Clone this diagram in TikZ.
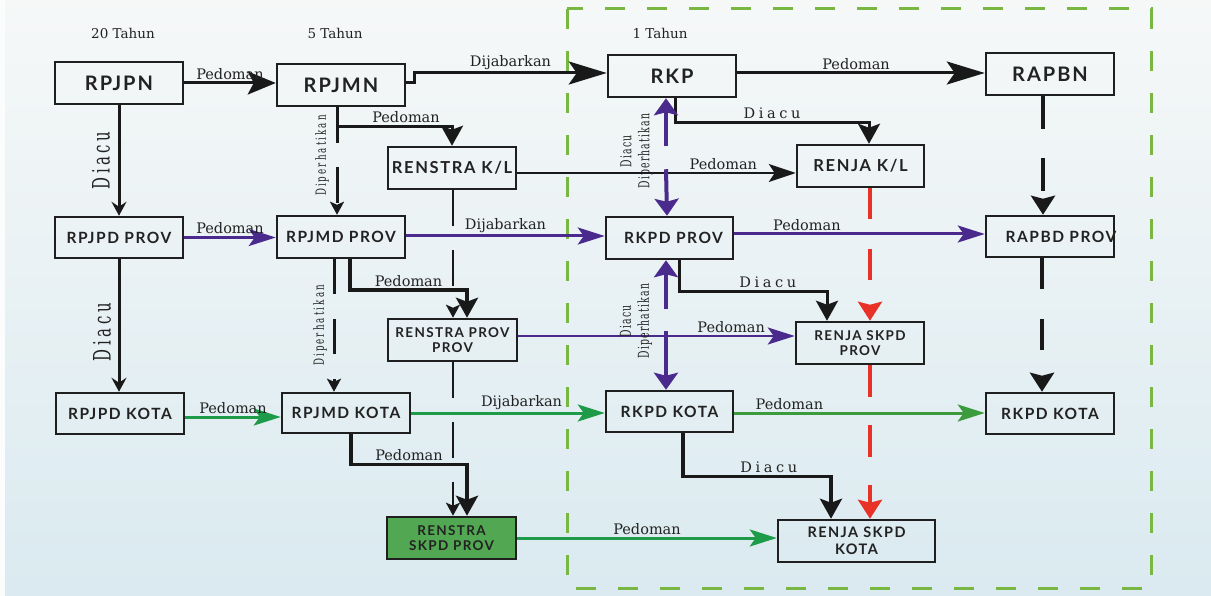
\documentclass[tikz,border=0pt]{standalone}
\usepackage{fontspec}
\setmainfont{DejaVu Serif}
\newfontfamily\bxf[LetterSpace=10]{Lato}
\newfontfamily\cndsp[FakeStretch=0.62,LetterSpace=15]{DejaVu Serif}
\newfontfamily\cndn[FakeStretch=0.62,LetterSpace=8]{DejaVu Serif}
\newfontfamily\spcf[LetterSpace=25]{DejaVu Serif}
\usetikzlibrary{arrows.meta}
\definecolor{pur}{RGB}{74,42,140}
\definecolor{grn}{RGB}{30,155,72}
\definecolor{grnb}{RGB}{60,155,60}
\definecolor{fgrn}{RGB}{82,168,82}
\definecolor{framec}{RGB}{120,184,66}
\definecolor{rd}{RGB}{232,50,40}
\definecolor{bgtop}{RGB}{246,248,248}
\definecolor{bgbot}{RGB}{218,234,240}
\definecolor{txt}{RGB}{34,34,34}
\begin{document}
\begin{tikzpicture}[x=1pt,y=-1pt,
  box/.style={draw=black!88, line width=2.5pt, inner sep=0pt, align=center, text=txt, minimum width=128pt, minimum height=42pt},
  bA/.style={font=\bxf\bfseries\fontsize{20}{22}\selectfont},
  bB/.style={font=\bxf\bfseries\fontsize{16.5}{18}\selectfont},
  bC/.style={font=\bxf\bfseries\fontsize{15.5}{17}\selectfont},
  bD/.style={font=\bxf\bfseries\fontsize{13.5}{15.5}\selectfont},
  bE/.style={font=\bxf\bfseries\fontsize{14.5}{16.5}\selectfont},
  lbl/.style={font=\fontsize{14.5}{16}\selectfont, text=txt, inner sep=2pt},
  spc/.style={font=\spcf\fontsize{14.5}{16}\selectfont, text=txt, inner sep=2pt},
  ttl/.style={font=\fontsize{13.5}{16}\selectfont, text=txt},
  vlA/.style={font=\cndsp\fontsize{24}{24}\selectfont, text=txt},
  vlB/.style={font=\cndsp\fontsize{14}{14}\selectfont, text=txt},
  vlC/.style={font=\cndn\fontsize{15}{18}\selectfont, text=txt, align=center},
  blk/.style={draw=black!90, line width=3pt},
  dsh/.style={draw=black!90, line width=3pt, dash pattern=on 36pt off 24pt},
  pu/.style={draw=pur, line width=3pt},
  gr/.style={draw=grn, line width=3pt},
  rdd/.style={draw=rd, line width=3.5pt},
  tipA/.style={-{Stealth[length=28pt,width=23pt,inset=6pt]}},
  tipL/.style={-{Stealth[length=38pt,width=23pt,inset=8pt]}},
  tipM/.style={-{Stealth[length=20pt,width=22pt,inset=4pt]}},
  tipN/.style={-{Stealth[length=27pt,width=18pt,inset=6pt]}},
  tipS/.style={-{Stealth[length=14pt,width=15pt,inset=5pt]}},
  tipD/.style={-{Stealth[length=13pt,width=14pt,inset=3pt]}},
  tipP/.style={-{Stealth[length=27pt,width=17pt,inset=6pt]}},
  tipT/.style={-{Stealth[length=19pt,width=24pt,inset=3pt]}},
  tipU/.style={-{Stealth[length=17pt,width=24pt,inset=3pt]}},
]
\useasboundingbox (0,0) rectangle (1211,596);
\shade[top color=bgtop, bottom color=bgbot] (0,0) rectangle (1211,596);
\fill[white!60!bgtop] (0,0) rectangle (5,596);
% frame of the 1-year block
\draw[framec, line width=3pt, dash pattern=on 20pt off 22pt] (567,9) rectangle (1151,588);

% titles
\node[ttl] (t20) at (123,33) {20 Tahun};
\node[ttl] (t5) at (335,33) {5 Tahun};
\node[ttl] (t1) at (660,33) {1 Tahun};

% boxes
\node[box,bA] (rpjpn) at (119,83) {RPJPN};
\node[box,bA] (rpjmn) at (341,85) {RPJMN};
\node[box,bA] (rkp) at (672,76) {RKP};
\node[box,bA] (rapbn) at (1050,74) {RAPBN};
\node[box,bB] (renkl) at (452,168) {RENSTRA K/L};
\node[box,bB,minimum width=127pt] (renjakl) at (860.5,166) {RENJA K/L};
\node[box,bC,minimum height=41pt] (rpjpdprov) at (119,237.5) {RPJPD PROV};
\node[box,bC] (rpjmdprov) at (341,237) {RPJMD PROV};
\node[box,bC,minimum width=127pt] (rkpdprov) at (669.5,238) {\makebox[0pt]{\hspace*{8pt}RKPD PROV}};
\node[box,bC,minimum height=41pt] (rapbdprov) at (1050,236.5) {\makebox[0pt]{\hspace*{22pt}RAPBD PROV}};
\node[box,bD,minimum width=129pt] (renprov) at (452.5,340) {RENSTRA PROV\\PROV};
\node[box,bD] (renjaprov) at (860,343) {RENJA SKPD\\PROV};
\node[box,bC,minimum height=41pt] (rpjpdkota) at (120,413.5) {RPJPD KOTA};
\node[box,bC,minimum height=40pt] (rpjmdkota) at (346,413) {RPJMD KOTA};
\node[box,bC,minimum width=127pt,minimum height=41pt] (rkpdkota) at (669.5,411.5) {RKPD KOTA};
\node[box,bC,minimum height=41pt] (rkpdkota2) at (1050,413.5) {RKPD KOTA};
\node[box,bD,fill=fgrn,minimum width=129pt] (renskpd) at (451.5,538) {RENSTRA\\SKPD PROV};
\node[box,bE,minimum width=157pt] (renjakota) at (856.5,541) {RENJA SKPD\\KOTA};

% row 1
\draw[blk,tipA] (rpjpn.east) -- (rpjpn.east -| rpjmn.west) node[lbl,midway,above] {Pedoman};
\draw[blk,tipL] ([yshift=2pt]rpjmn.east) -- ++(8,0) -- ++(0,-10) coordinate (dj) -- (dj -| rkp.west) node[lbl,midway,above] {Dijabarkan};
\draw[blk,tipL] ([yshift=3pt]rkp.east) -- ([yshift=3pt]rkp.east -| rapbn.west) node[lbl,pos=.48,above] {Pedoman};

% left column Diacu
\draw[blk,tipS] (rpjpn.south) -- (rpjpn.south |- rpjpdprov.north) node[vlA,midway,xshift=-18pt,rotate=90] {Diacu};
\draw[blk,tipS] (rpjpdprov.south) -- (rpjpdprov.south |- rpjpdkota.north) node[vlA,pos=.55,xshift=-17pt,rotate=90] {Diacu};

% 5-year column
\draw[dsh,tipD] ([xshift=-4pt]rpjmn.south) -- ([xshift=-4pt]rpjmn.south |- rpjmdprov.north) node[vlB,pos=.45,xshift=-15pt,rotate=90] {Diperhatikan};
\draw[blk,tipM] ([xshift=-4pt]rpjmn.south) -- ++(0,19) -| (renkl.north) node[lbl,pos=.3,above] {Pedoman};
\draw[blk,line width=2pt,tipN] ([yshift=-5pt]renkl.east) -- ([yshift=-5pt]renkl.east -| renjakl.west) node[lbl,pos=.74,above] {Pedoman};
\draw[dsh,line width=2.5pt,tipD] ([xshift=1pt]renkl.south) -- ([xshift=1pt]renkl.south |- renprov.north);
\draw[blk,line width=3.5pt,tipM] ([xshift=9pt]rpjmdprov.south) -- ++(0,31) -| ([xshift=14.5pt]renprov.north) node[lbl,pos=.25,above] {Pedoman};
\draw[dsh,dash pattern=on 35pt off 25pt,tipD] ([xshift=-7pt]rpjmdprov.south) -- ([xshift=-7pt]rpjmdprov.south |- rpjmdkota.north) node[vlB,midway,xshift=-14pt,rotate=90] {Diperhatikan};
\draw[dsh,line width=2.5pt,tipD] ([xshift=0.5pt]renprov.south) -- ([xshift=0.5pt]renprov.south |- renskpd.north);
\draw[blk,line width=3.5pt,tipM] ([xshift=5pt]rpjmdkota.south) -- ++(0,30) -| ([xshift=15.5pt]renskpd.north) node[lbl,pos=.25,above] {Pedoman};

% purple (province)
\draw[pu,tipP] (rpjpdprov.east) -- (rpjpdprov.east -| rpjmdprov.west) node[lbl,midway,above] {Pedoman};
\draw[pu,tipP] ([yshift=1pt]rpjmdprov.east) -- ([yshift=1pt]rpjmdprov.east -| rkpdprov.west) node[lbl,midway,above] {Dijabarkan};
\draw[pu,tipP] ([yshift=4pt]rkpdprov.east) -- ([yshift=4pt]rkpdprov.east -| rapbdprov.west) node[lbl,pos=.29,above] {Pedoman};
\draw[pu,line width=2.5pt,tipP] ([yshift=4pt]renprov.east) -- ([yshift=4pt]renprov.east -| renjaprov.west) node[lbl,pos=.77,above] {Pedoman};

% green (city)
\draw[gr,tipP] ([yshift=-3.5pt]rpjpdkota.east) -- ([yshift=-3.5pt]rpjpdkota.east -| rpjmdkota.west) node[lbl,midway,above] {Pedoman};
\draw[gr,tipP] (rpjmdkota.east) -- (rpjmdkota.east -| rkpdkota.west) node[lbl,pos=.57,above] {Dijabarkan};
\draw[draw=grnb,line width=3pt,tipP] ([yshift=-1.5pt]rkpdkota.east) -- ([yshift=-1.5pt]rkpdkota.east -| rkpdkota2.west) node[lbl,pos=.22,above] {Pedoman};
\draw[gr,tipP] (renskpd.east) -- (renskpd.east -| renjakota.west) node[lbl,midway,above] {Pedoman};

% Diacu to RENJA
\draw[blk,tipM] ([xshift=3pt]rkp.south) -- ++(0,24) -| ([xshift=8.5pt]renjakl.north) node[spc,pos=.25,above] {Diacu};
\draw[blk,tipM] ([xshift=9.5pt]rkpdprov.south) -- ++(0,31) -| ([xshift=-33pt]renjaprov.north) node[spc,pos=.3,above] {Diacu};
\draw[blk,line width=3.5pt,tipM] ([xshift=13.5pt]rkpdkota.south) -- ++(0,43) -| ([xshift=-25.5pt]renjakota.north) node[spc,pos=.29,above] {Diacu};

% right column dashed black
\draw[blk,line width=4pt,dash pattern=on 33pt off 29pt,tipT] ([xshift=-7pt]rapbn.south) -- ([xshift=-7pt]rapbn.south |- rapbdprov.north);
\draw[blk,line width=4pt,dash pattern=on 31pt off 30pt,tipT] ([xshift=-8pt]rapbdprov.south) -- ([xshift=-8pt]rapbdprov.south |- rkpdkota2.north);

% red dashed
\draw[rdd,dash pattern=on 31pt off 30pt,tipT] ([xshift=9.5pt]renjakl.south) -- ([xshift=9.5pt]renjakl.south |- renjaprov.north);
\draw[rdd,dash pattern=on 32pt off 28pt,tipT] ([xshift=10pt]renjaprov.south) -- ([xshift=10pt]renjaprov.south |- renjakota.north);

% purple two-way links
\draw[pu,line width=4pt,tipU] ([xshift=-6pt]rkp.south) ++(0,48) -- ([xshift=-6pt]rkp.south);
\draw[pu,line width=4pt,tipU] ([xshift=-6pt]rkp.south) ++(0,71) -- ([xshift=-2.5pt]rkpdprov.north);
\path ([xshift=-6pt]rkp.south) -- ([xshift=-2.5pt]rkpdprov.north) node[vlC,pos=.45,xshift=-30pt,rotate=90] {Diacu\\Diperhatikan};
\draw[pu,line width=4pt,tipU] ([xshift=-3.5pt]rkpdprov.south) ++(0,49) -- ([xshift=-3.5pt]rkpdprov.south);
\draw[pu,line width=4pt,tipU] ([xshift=-3.5pt]rkpdprov.south) ++(0,71) -- ([xshift=-3.5pt]rkpdprov.south |- rkpdkota.north);
\path ([xshift=-3.5pt]rkpdprov.south) -- ([xshift=-3.5pt]rkpdprov.south |- rkpdkota.north) node[vlC,pos=.47,xshift=-30pt,rotate=90] {Diacu\\Diperhatikan};
\end{tikzpicture}
\end{document}
